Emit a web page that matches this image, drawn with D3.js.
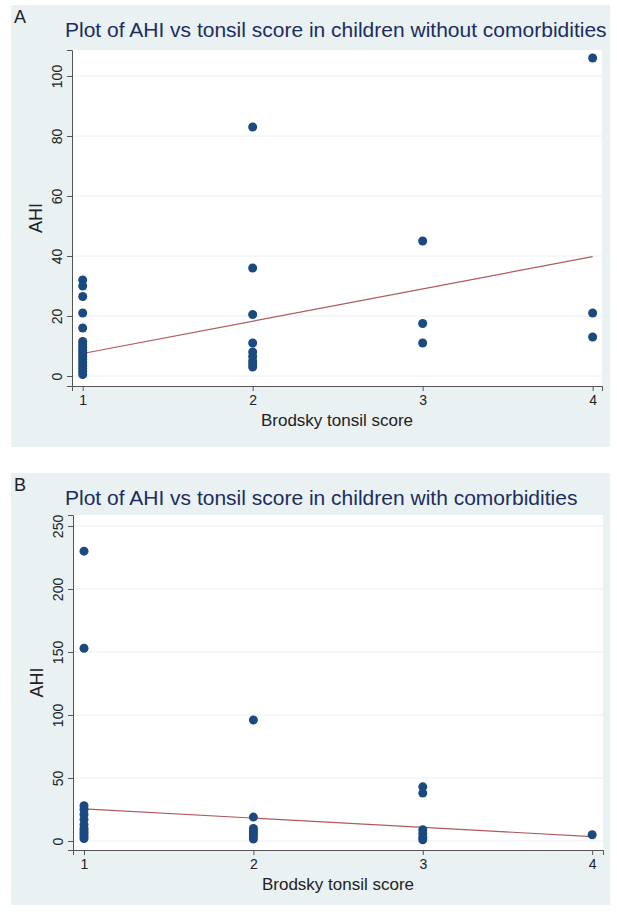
<!DOCTYPE html>
<html><head><meta charset="utf-8">
<script src="https://cdn.jsdelivr.net/npm/d3@7"></script>
<style>body{margin:0;background:#fff;}svg{display:block;font-family:"Liberation Sans",Arial,sans-serif;}</style>
</head><body>
<script>
// ---- data ----
const tonsilTicks = [1, 2, 3, 4];
const ahiTicksA = [0, 20, 40, 60, 80, 100];
const ahiTicksB = [0, 50, 100, 150, 200, 250];
const titleA = "Plot of AHI vs tonsil score in children without comorbidities";
const titleB = "Plot of AHI vs tonsil score in children with comorbidities";
// Panel A: tonsil score and AHI per child
const scoreA = [1,1,1,1,1,1,1,1,1,1,1,1,1,1,1,1,1, 2,2,2,2,2,2,2,2,2, 3,3,3, 4,4,4];
const ahiA   = [32,30,26.5,21,16,11.5,10.5,9.5,8.5,7.5,6.5,5.5,4.5,3.5,2.5,1.5,0.5,
                83,36,20.5,11,8,6.5,5,4,3, 45,17.5,11, 106,21,13];
const fitA = [[1, 7.5], [4, 39.8]];
// Panel B
const scoreB = [1,1,1,1,1,1,1,1,1,1,1,1, 2,2,2,2,2,2,2, 3,3,3,3,3,3, 4];
const ahiB   = [230,153,28,25,21,17,13,10,8,6,4,2, 96,19,10,8,6,4,1.5, 43,38,9,6,3,1, 5];
const fitB = [[1, 25.5], [4, 3.5]];

const svg = d3.select("body").append("svg").attr("width", 617).attr("height", 914);

function panel(o) {
  const g = svg.append("g");
  g.append("rect").attr("x", 11).attr("y", o.bgTop).attr("width", 599).attr("height", o.bgH).attr("fill", "#e9f1f3");
  g.append("text").attr("x", 14).attr("y", o.bgTop + 18).attr("font-size", 18).attr("fill", "#222").text(o.letter);
  g.append("text").attr("x", 65).attr("y", o.bgTop + 32).attr("font-size", 21).attr("fill", "#1c2d5e").text(o.title);
  const x = d3.scaleLinear().domain(o.xd).range([o.left, o.right]);
  const y = d3.scaleLinear().domain(o.yd).range([o.bottom, o.top]);
  g.append("rect").attr("x", o.left).attr("y", o.top).attr("width", o.right - o.left).attr("height", o.bottom - o.top).attr("fill", "#fff");
  g.append("g").selectAll("line").data(o.yt).join("line")
    .attr("x1", o.left).attr("x2", o.right).attr("y1", d => y(d)).attr("y2", d => y(d))
    .attr("stroke", "#eaeef0").attr("stroke-width", 1);
  const ya = g.append("g").attr("transform", `translate(${o.left},0)`)
    .call(d3.axisLeft(y).tickValues(o.yt).tickSize(5).tickPadding(4));
  ya.select(".domain").attr("stroke", "#555");
  ya.selectAll(".tick line").attr("stroke", "#555");
  ya.selectAll(".tick text").attr("font-size", 14).attr("fill", "#222")
    .attr("transform", "rotate(-90)").attr("x", 0).attr("dy", 0)
    .attr("text-anchor", "middle")
    .attr("y", -10);
  const xa = g.append("g").attr("transform", `translate(0,${o.bottom})`)
    .call(d3.axisBottom(x).tickValues(tonsilTicks).tickFormat(d3.format("d")).tickSize(5).tickPadding(4));
  xa.select(".domain").attr("stroke", "#555");
  xa.selectAll(".tick line").attr("stroke", "#555");
  xa.selectAll(".tick text").attr("font-size", 14).attr("fill", "#222");
  g.append("text").attr("transform", `translate(${o.left - 30},${(o.top + o.bottom) / 2}) rotate(-90)`)
    .attr("text-anchor", "middle").attr("font-size", 18).attr("fill", "#222").text("AHI");
  g.append("text").attr("x", (o.left + o.right) / 2).attr("y", o.bottom + 40)
    .attr("text-anchor", "middle").attr("font-size", 17).attr("fill", "#222").text("Brodsky tonsil score");
  g.append("line").attr("x1", x(o.fit[0][0])).attr("y1", y(o.fit[0][1]))
    .attr("x2", x(o.fit[1][0])).attr("y2", y(o.fit[1][1]))
    .attr("stroke", "#b0595c").attr("stroke-width", 1.2);
  g.append("g").selectAll("circle").data(o.xs.map((s, i) => [s, o.ys[i]])).join("circle")
    .attr("cx", d => x(d[0])).attr("cy", d => y(d[1])).attr("r", 4.5).attr("fill", "#1a4a80");
}

panel({letter: "A", title: titleA, bgTop: 5, bgH: 442, left: 72, right: 602, top: 50, bottom: 386,
  xd: [0.937, 4.055], yd: [-3.33, 108.67], yt: ahiTicksA, xs: scoreA, ys: ahiA, fit: fitA});
panel({letter: "B", title: titleB, bgTop: 473, bgH: 432, left: 73, right: 603, top: 515, bottom: 850,
  xd: [0.935, 4.064], yd: [-7.14, 258.7], yt: ahiTicksB, xs: scoreB, ys: ahiB, fit: fitB});
</script>
</body></html>
